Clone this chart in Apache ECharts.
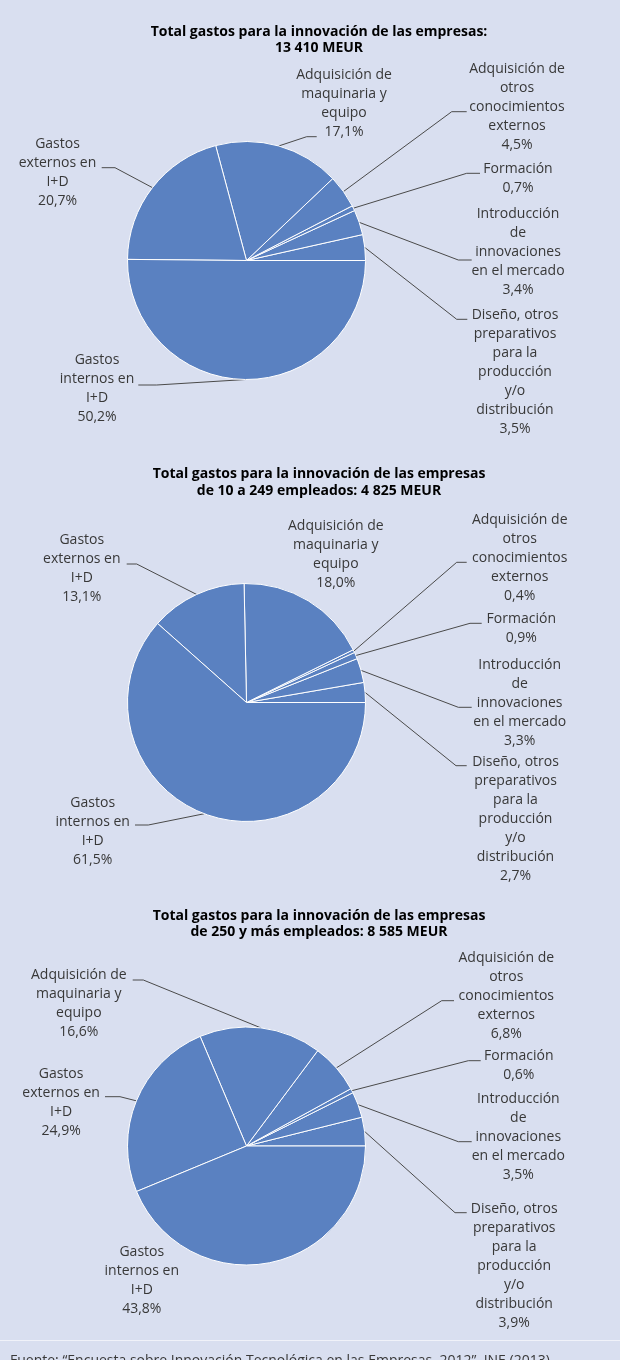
<!DOCTYPE html>
<html>
<head>
<meta charset="utf-8">
<script src="https://cdn.jsdelivr.net/npm/echarts@6/dist/echarts.min.js"></script>
<style>
  html, body { margin: 0; padding: 0; background: #d9dff0; }
  #chart { width: 620px; height: 1360px; }
</style>
</head>
<body>
<div id="chart"></div>
<script>
// Innovation spending breakdown (share of total, %), Spain 2012
const CATEGORIES = [
  'Diseño, otros\npreparativos\npara la\nproducción\ny/o\ndistribución',
  'Introducción\nde\ninnovaciones\nen el mercado',
  'Formación',
  'Adquisición de\notros\nconocimientos\nexternos',
  'Adquisición de\nmaquinaria y\nequipo',
  'Gastos\nexternos en\nI+D',
  'Gastos\ninternos en\nI+D'
];
const TOTAL_SHARES = [3.5, 3.4, 0.7, 4.5, 17.1, 20.7, 50.2];
const SME_SHARES   = [2.7, 3.3, 0.9, 0.4, 18.0, 13.1, 61.5];
const LARGE_SHARES = [3.9, 3.5, 0.6, 6.8, 16.6, 24.9, 43.8];

const TITLES = [
  ['Total gastos para la innovación de las empresas:', '13 410 MEUR'],
  ['Total gastos para la innovación de las empresas', 'de 10 a 249 empleados: 4 825 MEUR'],
  ['Total gastos para la innovación de las empresas', 'de 250 y más empleados: 8 585 MEUR']
];
const SOURCE = 'Fuente: “Encuesta sobre Innovación Tecnológica en las Empresas, 2012”. INE (2013).';

// Layout of each pie: centre, title rows, and per-slice label placement
// label: [centreX, centreY], line: [elbowX, elbowY, endX] or null
const PIES = [
  {
    values: TOTAL_SHARES, center: [246.5, 260.5], titleY: [32, 48],
    labels: [
      { at: [515, 372],   line: [456.7, 319.3, 467.3] },
      { at: [518, 252.5], line: [458.3, 260, 471.7] },
      { at: [518, 178.8], line: [466.7, 173.3, 480] },
      { at: [517, 107.2], line: [451.7, 111.7, 466.7] },
      { at: [344, 104],   line: [306.7, 136.7, 316.7] },
      { at: [57.5, 172.7], line: [115, 167.7, 101.7] },
      { at: [97, 389],    line: [156.7, 385, 138.3] }
    ]
  },
  {
    values: SME_SHARES, center: [246.5, 702.5], titleY: [474, 491],
    labels: [
      { at: [515.5, 818.8], line: [456, 765.7, 466.7] },
      { at: [519.7, 703],   line: [458.3, 707.3, 471.7] },
      { at: [521.3, 628.7], line: [470, 623.3, 481.7] },
      { at: [519.7, 558.3], line: [456.7, 562.3, 466.7] },
      { at: [335.8, 555],   line: null },
      { at: [81.8, 568.7],  line: [136.7, 564, 126.7] },
      { at: [92.7, 831.3],  line: [148.3, 825, 135] }
    ]
  },
  {
    values: LARGE_SHARES, center: [246.5, 1146], titleY: [916, 932],
    labels: [
      { at: [514.2, 1266.3], line: [455, 1212.7, 466.7] },
      { at: [518.3, 1137],   line: [458.3, 1141.7, 471.7] },
      { at: [518.8, 1065.3], line: [468.3, 1060.7, 480.7] },
      { at: [506.3, 996.3],  line: [441.7, 1000.7, 454] },
      { at: [78.8, 1003.3],  line: [143.3, 980, 132.7] },
      { at: [61.1, 1103],    line: [120, 1096.7, 105] },
      { at: [141.8, 1281],   line: null }
    ]
  }
];

const SLICE_COLOR = '#5a81c1';
const LABEL_FONT = '"Open Sans", "Noto Sans", sans-serif';
const fmt = v => v.toFixed(1).replace('.', ',') + '%';

const series = PIES.map((pie, s) => ({
  type: 'pie',
  center: pie.center,
  radius: 119,
  startAngle: 0,
  clockwise: false,
  avoidLabelOverlap: false,
  animation: false,
  silent: true,
  itemStyle: { color: SLICE_COLOR, borderColor: '#ffffff', borderWidth: 1 },
  label: {
    show: true,
    position: 'outside',
    formatter: p => p.name + '\n' + fmt(p.value),
    fontFamily: LABEL_FONT,
    fontSize: 14,
    lineHeight: 19,
    color: '#383838'
  },
  labelLine: { show: true, lineStyle: { color: '#4a4a4a', width: 1 } },
  data: CATEGORIES.map((name, i) => ({
    name: name,
    value: pie.values[i],
    labelLine: { show: pie.labels[i].line !== null }
  })),
  labelLayout: params => {
    const spec = pie.labels[params.dataIndex];
    const out = {
      x: spec.at[0], y: spec.at[1],
      align: 'center', verticalAlign: 'middle'
    };
    if (spec.line && params.labelLinePoints) {
      const anchor = params.labelLinePoints[0];
      out.labelLinePoints = [
        [anchor[0], anchor[1]],
        [spec.line[0], spec.line[1]],
        [spec.line[2], spec.line[1]]
      ];
    }
    return out;
  }
}));

const graphics = [];
PIES.forEach((pie, s) => {
  TITLES[s].forEach((row, r) => {
    graphics.push({
      type: 'text',
      x: 319, y: pie.titleY[r],
      style: {
        text: row,
        align: 'center', verticalAlign: 'middle',
        fontFamily: '"Open Sans", "Noto Sans", sans-serif',
        fontWeight: 'bold', fontSize: 14,
        fill: '#000000'
      },
      silent: true
    });
  });
});
graphics.push({
  type: 'rect',
  shape: { x: 0, y: 1340, width: 620, height: 1 },
  style: { fill: 'rgba(255,255,255,0.6)' },
  silent: true
});
graphics.push({
  type: 'text',
  x: 10, y: 1354,
  style: {
    text: SOURCE,
    align: 'left', verticalAlign: 'top',
    fontFamily: LABEL_FONT, fontSize: 14, fill: '#383838'
  },
  silent: true
});

const chart = echarts.init(document.getElementById('chart'), null, { renderer: 'canvas' });
chart.setOption({
  backgroundColor: '#d9dff0',
  animation: false,
  series: series,
  graphic: graphics
});
</script>
</body>
</html>
